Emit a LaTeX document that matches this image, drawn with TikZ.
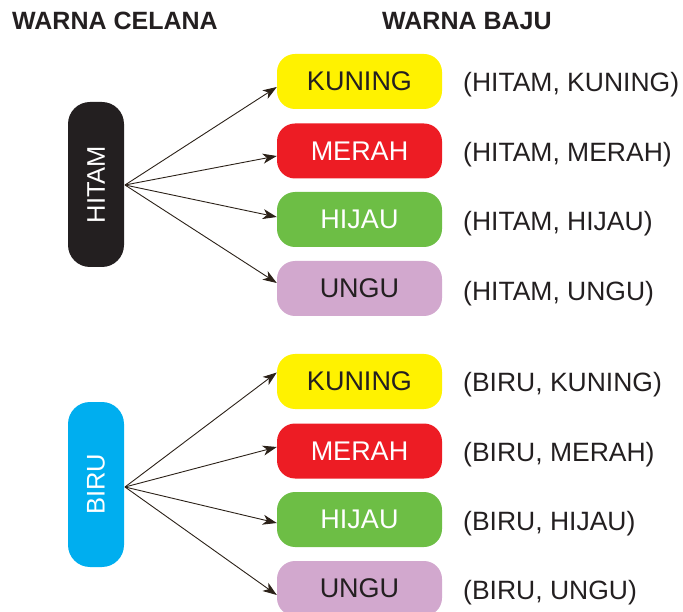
\documentclass[tikz,border=0pt]{standalone}
\usepackage{fontspec}
\setmainfont{Liberation Sans}
\usetikzlibrary{arrows.meta}
\definecolor{cblack}{RGB}{35,31,32}
\definecolor{cyellow}{RGB}{255,242,0}
\definecolor{cred}{RGB}{237,28,36}
\definecolor{cgreen}{RGB}{109,190,69}
\definecolor{cpurple}{RGB}{210,168,206}
\definecolor{cblue}{RGB}{0,174,239}
\definecolor{carrow}{RGB}{43,33,24}
\begin{document}
\begin{tikzpicture}[x=1pt,y=-1pt,
  font=\fontsize{26.5}{30}\selectfont,
  pant/.style={rounded corners=22pt, minimum width=56pt, minimum height=165pt, inner sep=0pt, text=white, font=\fontsize{25.5}{30}\selectfont},
  shirt/.style={rounded corners=18pt, minimum width=165pt, minimum height=55pt, inner sep=0pt, font=\fontsize{27}{30}\selectfont},
  pair/.style={anchor=west, inner sep=0pt, text=cblack},
  head/.style={inner sep=0pt, text=cblack, font=\fontsize{25}{28}\selectfont\bfseries},
  link/.style={draw=carrow, line width=0.9pt, -{Stealth[length=14pt,width=10pt,inset=4pt]}}]
\useasboundingbox (0,0) rectangle (683,612);
\node[head, anchor=west] (h1) at (12,21) {WARNA CELANA};
\node[head, anchor=west] (h2) at (382,21) {WARNA BAJU};
% top group
\node[pant, fill=cblack] (p1) at (96,184.5) {\rotatebox{90}{HITAM}};
\node[shirt, fill=cyellow, text=cblack] (a1) at (359.5,81.5) {KUNING};
\node[shirt, fill=cred, text=white] (a2) at (359.5,151) {MERAH};
\node[shirt, fill=cgreen, text=white] (a3) at (359.5,219.5) {HIJAU};
\node[shirt, fill=cpurple, text=cblack] (a4) at (359.5,288.5) {UNGU};
\coordinate (o1) at (125,185);
\draw[link] (o1) -- ([yshift=-5.5pt]a1.west);
\draw[link] (o1) -- ([yshift=-5pt]a2.west);
\draw[link] (o1) -- ([yshift=2.5pt]a3.west);
\draw[link] (o1) -- ([yshift=5.5pt]a4.west);
\node[pair] (t1) at (463,84.5) {(HITAM, KUNING)};
\node[pair] (t2) at (463,154.5) {(HITAM, MERAH)};
\node[pair] (t3) at (463,223.5) {(HITAM, HIJAU)};
\node[pair] (t4) at (463,293.5) {(HITAM, UNGU)};
% bottom group
\node[pant, fill=cblue] (p2) at (96,484.5) {\rotatebox{90}{BIRU}};
\node[shirt, fill=cyellow, text=cblack] (b1) at (359.5,381.5) {KUNING};
\node[shirt, fill=cred, text=white] (b2) at (359.5,451) {MERAH};
\node[shirt, fill=cgreen, text=white] (b3) at (359.5,519.5) {HIJAU};
\node[shirt, fill=cpurple, text=cblack] (b4) at (359.5,588.5) {UNGU};
\coordinate (o2) at (125,487);
\draw[link] (o2) -- ([yshift=9pt]b1.west);
\draw[link] (o2) -- ([yshift=4pt]b2.west);
\draw[link] (o2) -- ([yshift=-3.5pt]b3.west);
\draw[link] (o2) -- ([yshift=-6.5pt]b4.west);
\node[pair] (u1) at (463,384.5) {(BIRU, KUNING)};
\node[pair] (u2) at (463,454.5) {(BIRU, MERAH)};
\node[pair] (u3) at (463,523.5) {(BIRU, HIJAU)};
\node[pair] (u4) at (463,592.5) {(BIRU, UNGU)};
\end{tikzpicture}
\end{document}
